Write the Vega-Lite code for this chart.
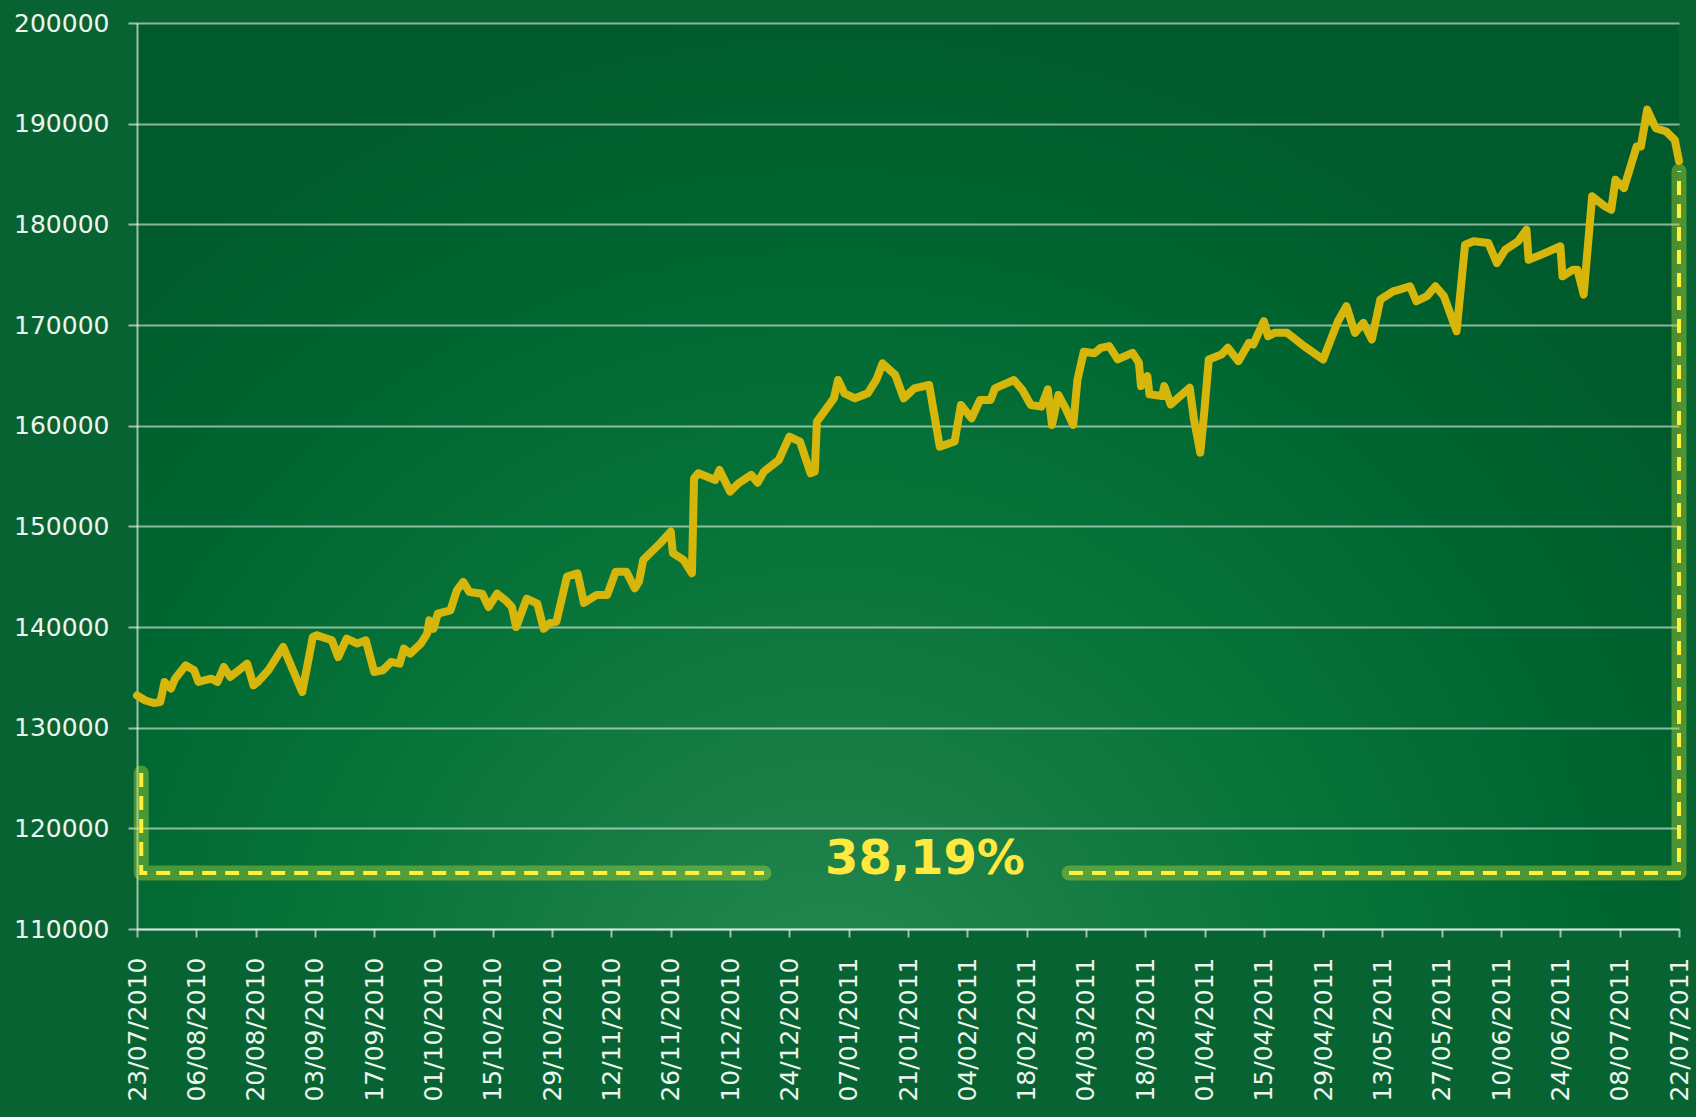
{
  "$schema": "https://vega.github.io/schema/vega-lite/v6.json",
  "width": 1542,
  "height": 906,
  "autosize": {"type": "none"},
  "padding": {"left": 137, "top": 23, "right": 17, "bottom": 188},
  "background": "#076432",
  "config": {
    "view": {
      "stroke": null,
      "fill": {
        "gradient": "radial",
        "x1": 0.45, "y1": 0.86, "r1": 0,
        "x2": 0.45, "y2": 0.86, "r2": 0.68,
        "stops": [
          {"offset": 0, "color": "#278b53"},
          {"offset": 0.25, "color": "#177d44"},
          {"offset": 0.5, "color": "#067338"},
          {"offset": 0.75, "color": "#006631"},
          {"offset": 1, "color": "#005a2b"}
        ]
      }
    },
    "axis": {
      "labelFont": "DejaVu Sans",
      "labelFontSize": 25,
      "labelColor": "#eef4ee",
      "domainColor": "#ffffff",
      "domainOpacity": 0.6,
      "domainWidth": 2,
      "tickColor": "#ffffff",
      "tickOpacity": 0.6,
      "tickWidth": 2,
      "gridColor": "#ffffff",
      "gridOpacity": 0.55,
      "gridWidth": 2
    }
  },
  "datasets": {
    "equity": [
      {"date": "2010-07-23", "value": 133200},
      {"date": "2010-07-25", "value": 132700},
      {"date": "2010-07-27", "value": 132450},
      {"date": "2010-07-28T12:00Z", "value": 132550},
      {"date": "2010-07-29T12:00Z", "value": 134540},
      {"date": "2010-07-31", "value": 133880},
      {"date": "2010-08-01", "value": 134870},
      {"date": "2010-08-03T12:00Z", "value": 136190},
      {"date": "2010-08-05T12:00Z", "value": 135700},
      {"date": "2010-08-06T12:00Z", "value": 134540},
      {"date": "2010-08-09T12:00Z", "value": 134870},
      {"date": "2010-08-11", "value": 134540},
      {"date": "2010-08-12T12:00Z", "value": 136030},
      {"date": "2010-08-14", "value": 135040},
      {"date": "2010-08-16", "value": 135700},
      {"date": "2010-08-18", "value": 136360},
      {"date": "2010-08-19T12:00Z", "value": 134210},
      {"date": "2010-08-20T12:00Z", "value": 134540},
      {"date": "2010-08-23", "value": 135700},
      {"date": "2010-08-26T12:00Z", "value": 138020},
      {"date": "2010-08-28T12:00Z", "value": 136030},
      {"date": "2010-08-31", "value": 133540},
      {"date": "2010-09-01", "value": 135700},
      {"date": "2010-09-02T12:00Z", "value": 139010},
      {"date": "2010-09-03T12:00Z", "value": 139170},
      {"date": "2010-09-07", "value": 138680},
      {"date": "2010-09-08T12:00Z", "value": 137020},
      {"date": "2010-09-10T12:00Z", "value": 138840},
      {"date": "2010-09-13", "value": 138350},
      {"date": "2010-09-15", "value": 138680},
      {"date": "2010-09-17", "value": 135530},
      {"date": "2010-09-19", "value": 135700},
      {"date": "2010-09-21", "value": 136530},
      {"date": "2010-09-23", "value": 136360},
      {"date": "2010-09-24", "value": 137850},
      {"date": "2010-09-25T12:00Z", "value": 137350},
      {"date": "2010-09-28", "value": 138350},
      {"date": "2010-09-29T12:00Z", "value": 139340},
      {"date": "2010-09-30", "value": 140660},
      {"date": "2010-10-01", "value": 139830},
      {"date": "2010-10-02", "value": 141320},
      {"date": "2010-10-05", "value": 141660},
      {"date": "2010-10-06T12:00Z", "value": 143640},
      {"date": "2010-10-08", "value": 144470},
      {"date": "2010-10-09T12:00Z", "value": 143470},
      {"date": "2010-10-12T12:00Z", "value": 143310},
      {"date": "2010-10-14", "value": 141990},
      {"date": "2010-10-16", "value": 143310},
      {"date": "2010-10-18", "value": 142650},
      {"date": "2010-10-19T12:00Z", "value": 141990},
      {"date": "2010-10-20T12:00Z", "value": 140000},
      {"date": "2010-10-23", "value": 142810},
      {"date": "2010-10-25T12:00Z", "value": 142320},
      {"date": "2010-10-27", "value": 139830},
      {"date": "2010-10-28T12:00Z", "value": 140400},
      {"date": "2010-10-30", "value": 140540},
      {"date": "2010-11-01T12:00Z", "value": 145000},
      {"date": "2010-11-04", "value": 145340},
      {"date": "2010-11-05T12:00Z", "value": 142400},
      {"date": "2010-11-08T12:00Z", "value": 143190},
      {"date": "2010-11-11", "value": 143190},
      {"date": "2010-11-13", "value": 145500},
      {"date": "2010-11-15T12:00Z", "value": 145500},
      {"date": "2010-11-17T12:00Z", "value": 143850},
      {"date": "2010-11-18T12:00Z", "value": 144510},
      {"date": "2010-11-19T12:00Z", "value": 146660},
      {"date": "2010-11-23T12:00Z", "value": 148320},
      {"date": "2010-11-26", "value": 149480},
      {"date": "2010-11-26T12:00Z", "value": 147330},
      {"date": "2010-11-29", "value": 146670},
      {"date": "2010-12-01", "value": 145340},
      {"date": "2010-12-01T12:00Z", "value": 154770},
      {"date": "2010-12-02T12:00Z", "value": 155270},
      {"date": "2010-12-06T12:00Z", "value": 154610},
      {"date": "2010-12-07T12:00Z", "value": 155600},
      {"date": "2010-12-10", "value": 153450},
      {"date": "2010-12-12", "value": 154280},
      {"date": "2010-12-15", "value": 155110},
      {"date": "2010-12-16T12:00Z", "value": 154340},
      {"date": "2010-12-18", "value": 155440},
      {"date": "2010-12-21T12:00Z", "value": 156590},
      {"date": "2010-12-24", "value": 158910},
      {"date": "2010-12-26T12:00Z", "value": 158420},
      {"date": "2010-12-29", "value": 155270},
      {"date": "2010-12-30", "value": 155440},
      {"date": "2010-12-30T12:00Z", "value": 160400},
      {"date": "2011-01-03T12:00Z", "value": 162720},
      {"date": "2011-01-04T12:00Z", "value": 164540},
      {"date": "2011-01-06", "value": 163210},
      {"date": "2011-01-08T12:00Z", "value": 162720},
      {"date": "2011-01-11T12:00Z", "value": 163210},
      {"date": "2011-01-13T12:00Z", "value": 164540},
      {"date": "2011-01-15", "value": 166190},
      {"date": "2011-01-18", "value": 165030},
      {"date": "2011-01-20", "value": 162720},
      {"date": "2011-01-22T12:00Z", "value": 163710},
      {"date": "2011-01-26", "value": 164040},
      {"date": "2011-01-28T12:00Z", "value": 157920},
      {"date": "2011-02-01", "value": 158420},
      {"date": "2011-02-02T12:00Z", "value": 162060},
      {"date": "2011-02-05", "value": 160730},
      {"date": "2011-02-07", "value": 162550},
      {"date": "2011-02-09T12:00Z", "value": 162550},
      {"date": "2011-02-10T12:00Z", "value": 163710},
      {"date": "2011-02-15", "value": 164540},
      {"date": "2011-02-17", "value": 163540},
      {"date": "2011-02-19", "value": 162060},
      {"date": "2011-02-21T12:00Z", "value": 161890},
      {"date": "2011-02-23", "value": 163610},
      {"date": "2011-02-24", "value": 160070},
      {"date": "2011-02-25T12:00Z", "value": 163050},
      {"date": "2011-02-27", "value": 161890},
      {"date": "2011-03-01", "value": 160070},
      {"date": "2011-03-02", "value": 164540},
      {"date": "2011-03-03T12:00Z", "value": 167350},
      {"date": "2011-03-06", "value": 167190},
      {"date": "2011-03-07T12:00Z", "value": 167730},
      {"date": "2011-03-09T12:00Z", "value": 167900},
      {"date": "2011-03-11T12:00Z", "value": 166580},
      {"date": "2011-03-15", "value": 167240},
      {"date": "2011-03-16T12:00Z", "value": 166250},
      {"date": "2011-03-17", "value": 163930},
      {"date": "2011-03-18T12:00Z", "value": 164920},
      {"date": "2011-03-19", "value": 163110},
      {"date": "2011-03-22", "value": 162940},
      {"date": "2011-03-22T12:00Z", "value": 163930},
      {"date": "2011-03-24", "value": 162110},
      {"date": "2011-03-28T12:00Z", "value": 163770},
      {"date": "2011-03-29T12:00Z", "value": 160630},
      {"date": "2011-03-31", "value": 157320},
      {"date": "2011-04-01", "value": 161620},
      {"date": "2011-04-02", "value": 166580},
      {"date": "2011-04-05", "value": 167070},
      {"date": "2011-04-06T12:00Z", "value": 167730},
      {"date": "2011-04-09", "value": 166410},
      {"date": "2011-04-11T12:00Z", "value": 168230},
      {"date": "2011-04-12T12:00Z", "value": 168060},
      {"date": "2011-04-15", "value": 170380},
      {"date": "2011-04-16", "value": 168890},
      {"date": "2011-04-17T12:00Z", "value": 169220},
      {"date": "2011-04-20T12:00Z", "value": 169220},
      {"date": "2011-04-24T12:00Z", "value": 167900},
      {"date": "2011-04-29", "value": 166580},
      {"date": "2011-05-02T12:00Z", "value": 170380},
      {"date": "2011-05-04T12:00Z", "value": 171870},
      {"date": "2011-05-06T12:00Z", "value": 169220},
      {"date": "2011-05-08T12:00Z", "value": 170210},
      {"date": "2011-05-10T12:00Z", "value": 168560},
      {"date": "2011-05-12T12:00Z", "value": 172530},
      {"date": "2011-05-15T12:00Z", "value": 173350},
      {"date": "2011-05-17", "value": 173520},
      {"date": "2011-05-19T12:00Z", "value": 173850},
      {"date": "2011-05-21", "value": 172360},
      {"date": "2011-05-23T12:00Z", "value": 172860},
      {"date": "2011-05-25T12:00Z", "value": 173850},
      {"date": "2011-05-27T12:00Z", "value": 172860},
      {"date": "2011-05-30T12:00Z", "value": 169390},
      {"date": "2011-06-01T12:00Z", "value": 177980},
      {"date": "2011-06-03T12:00Z", "value": 178310},
      {"date": "2011-06-07", "value": 178150},
      {"date": "2011-06-09", "value": 176160},
      {"date": "2011-06-11", "value": 177490},
      {"date": "2011-06-14", "value": 178310},
      {"date": "2011-06-16", "value": 179470},
      {"date": "2011-06-16T12:00Z", "value": 176490},
      {"date": "2011-06-19T12:00Z", "value": 176990},
      {"date": "2011-06-24", "value": 177820},
      {"date": "2011-06-24T12:00Z", "value": 174840},
      {"date": "2011-06-27", "value": 175500},
      {"date": "2011-06-28", "value": 175500},
      {"date": "2011-06-29T12:00Z", "value": 173020},
      {"date": "2011-07-01T12:00Z", "value": 182780},
      {"date": "2011-07-04T12:00Z", "value": 181790},
      {"date": "2011-07-06", "value": 181450},
      {"date": "2011-07-07", "value": 184430},
      {"date": "2011-07-09", "value": 183600},
      {"date": "2011-07-12", "value": 187730},
      {"date": "2011-07-13", "value": 187730},
      {"date": "2011-07-14T12:00Z", "value": 191400},
      {"date": "2011-07-16T12:00Z", "value": 189550},
      {"date": "2011-07-19", "value": 189220},
      {"date": "2011-07-21", "value": 188400},
      {"date": "2011-07-22", "value": 186300}
    ],
    "bracket": [
      {"seg": "left", "ord": 1, "date": "2010-07-24", "value": 125500},
      {"seg": "left", "ord": 2, "date": "2010-07-24", "value": 115560},
      {"seg": "left", "ord": 3, "date": "2010-12-18", "value": 115560},
      {"seg": "right", "ord": 1, "date": "2011-02-28", "value": 115560},
      {"seg": "right", "ord": 2, "date": "2011-07-22", "value": 115560},
      {"seg": "right", "ord": 3, "date": "2011-07-22", "value": 185300}
    ],
    "label": [
      {"date": "2011-01-25", "value": 115500, "label": "38,19%"}
    ]
  },
  "encoding": {
    "x": {
      "field": "date",
      "type": "temporal",
      "title": null,
      "scale": {
        "type": "utc",
        "domain": [
          {"year": 2010, "month": 7, "date": 23, "utc": true},
          {"year": 2011, "month": 7, "date": 22, "utc": true}
        ]
      },
      "axis": {
        "values": [
          {"year": 2010, "month": 7, "date": 23, "utc": true},
          {"year": 2010, "month": 8, "date": 6, "utc": true},
          {"year": 2010, "month": 8, "date": 20, "utc": true},
          {"year": 2010, "month": 9, "date": 3, "utc": true},
          {"year": 2010, "month": 9, "date": 17, "utc": true},
          {"year": 2010, "month": 10, "date": 1, "utc": true},
          {"year": 2010, "month": 10, "date": 15, "utc": true},
          {"year": 2010, "month": 10, "date": 29, "utc": true},
          {"year": 2010, "month": 11, "date": 12, "utc": true},
          {"year": 2010, "month": 11, "date": 26, "utc": true},
          {"year": 2010, "month": 12, "date": 10, "utc": true},
          {"year": 2010, "month": 12, "date": 24, "utc": true},
          {"year": 2011, "month": 1, "date": 7, "utc": true},
          {"year": 2011, "month": 1, "date": 21, "utc": true},
          {"year": 2011, "month": 2, "date": 4, "utc": true},
          {"year": 2011, "month": 2, "date": 18, "utc": true},
          {"year": 2011, "month": 3, "date": 4, "utc": true},
          {"year": 2011, "month": 3, "date": 18, "utc": true},
          {"year": 2011, "month": 4, "date": 1, "utc": true},
          {"year": 2011, "month": 4, "date": 15, "utc": true},
          {"year": 2011, "month": 4, "date": 29, "utc": true},
          {"year": 2011, "month": 5, "date": 13, "utc": true},
          {"year": 2011, "month": 5, "date": 27, "utc": true},
          {"year": 2011, "month": 6, "date": 10, "utc": true},
          {"year": 2011, "month": 6, "date": 24, "utc": true},
          {"year": 2011, "month": 7, "date": 8, "utc": true},
          {"year": 2011, "month": 7, "date": 22, "utc": true}
        ],
        "format": "%d/%m/%Y",
        "labelAngle": 270,
        "labelPadding": 20,
        "tickSize": 8,
        "grid": false,
        "labelOverlap": false,
        "labelFlush": false,
        "labelBound": false
      }
    },
    "y": {
      "field": "value",
      "type": "quantitative",
      "title": null,
      "scale": {"domain": [110000, 200000], "zero": false, "nice": false},
      "axis": {
        "values": [110000, 120000, 130000, 140000, 150000, 160000, 170000, 180000, 190000, 200000],
        "format": "d",
        "tickSize": 9,
        "labelPadding": 19,
        "grid": true,
        "labelOverlap": false,
        "labelFlush": false
      }
    }
  },
  "layer": [
    {
      "data": {"name": "equity"},
      "mark": {"type": "line", "color": "#d6b60a", "strokeWidth": 8, "strokeJoin": "round", "strokeCap": "round"}
    },
    {
      "data": {"name": "bracket"},
      "mark": {"type": "line", "color": "#b8dc3a", "opacity": 0.4, "strokeWidth": 15, "strokeJoin": "round", "strokeCap": "round"},
      "encoding": {
        "detail": {"field": "seg", "type": "nominal"},
        "order": {"field": "ord", "type": "quantitative"}
      }
    },
    {
      "data": {"name": "bracket"},
      "mark": {"type": "line", "color": "#fff03a", "strokeWidth": 4, "strokeDash": [14, 9]},
      "encoding": {
        "detail": {"field": "seg", "type": "nominal"},
        "order": {"field": "ord", "type": "quantitative"}
      }
    },
    {
      "data": {"name": "label"},
      "mark": {"type": "text", "color": "#ffe83f", "font": "DejaVu Sans", "fontWeight": "bold", "fontSize": 48, "align": "center", "baseline": "alphabetic"},
      "encoding": {
        "text": {"field": "label", "type": "nominal"}
      }
    }
  ]
}
